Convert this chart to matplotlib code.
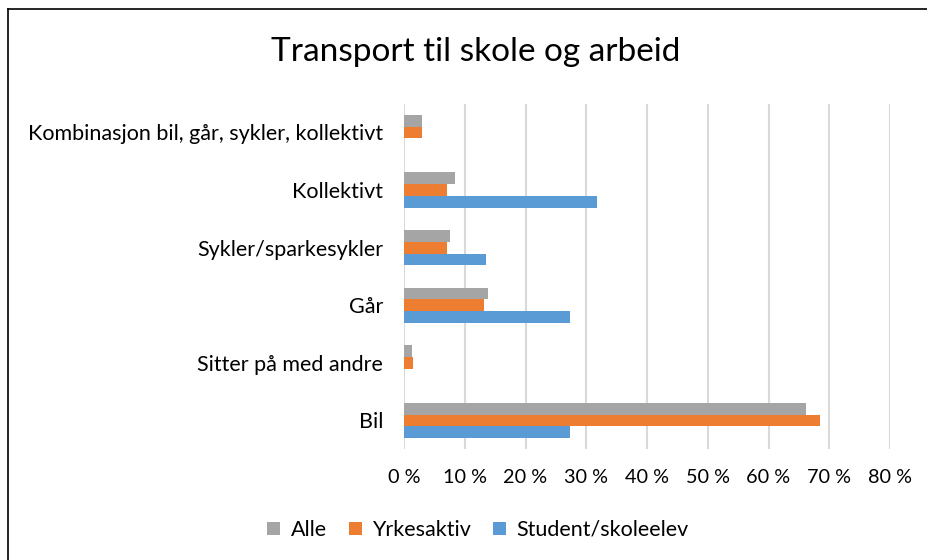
import numpy as np
import matplotlib.pyplot as plt
from matplotlib.lines import Line2D
from matplotlib.patches import Patch

plt.rcParams['font.family'] = ['Lato', 'DejaVu Sans']

# categories from bottom to top
categories = ["Bil", "Sitter på med andre", "Går", "Sykler/sparkesykler",
              "Kollektivt", "Kombinasjon bil, går, sykler, kollektivt"]
alle = [66.1, 1.3, 13.8, 7.5, 8.4, 3.0]
yrkesaktiv = [68.4, 1.4, 13.2, 7.1, 7.1, 3.0]
student = [27.3, 0.0, 27.3, 13.5, 31.8, 0.0]
series_names = ["Alle", "Yrkesaktiv", "Student/skoleelev"]
colors = ["#A5A5A5", "#ED7D31", "#5B9BD5"]
xticks = [0, 10, 20, 30, 40, 50, 60, 70, 80]

W, H = 927, 560
fig = plt.figure(figsize=(W / 100, H / 100), dpi=100)
ax = fig.add_axes([404 / W, 1 - 449.3 / H, (890 - 404) / W, (449.3 - 103.7) / H])

y = np.arange(len(categories))
bh = 0.206
for vals, off, c in zip([alle, yrkesaktiv, student], [bh, 0, -bh], colors):
    ax.barh(y + off, vals, height=bh, color=c, zorder=3)

ax.set_xlim(0, 80)
ax.set_ylim(-0.5, len(categories) - 0.5)
ax.set_xticks(xticks)
ax.set_xticklabels(["%d %%" % t for t in xticks])
ax.set_yticks(y)
ax.set_yticklabels(categories)
ax.tick_params(axis='both', length=0, colors='black')
ax.tick_params(axis='y', pad=15, labelsize=15.5)
ax.tick_params(axis='x', pad=14, labelsize=14.3)
ax.grid(axis='x', color='#D9D9D9', linewidth=1.5, zorder=0)
for s in ax.spines.values():
    s.set_visible(False)

fig.text(476 / W, 1 - 52 / H, "Transport til skole og arbeid", fontsize=24,
         ha='center', va='center')

handles = [Patch(facecolor=c) for c in colors]
fig.legend(handles, series_names, loc='center', bbox_to_anchor=(478 / W, 1 - 530 / H),
           ncol=3, frameon=False, fontsize=15.5, handlelength=0.6, handleheight=0.6,
           handletextpad=0.5, columnspacing=1.0)

# chart frame (cropped)
fig.add_artist(Line2D([8 / W, 8 / W], [0, 1 - 9 / H], color='black', lw=1.2))
fig.add_artist(Line2D([8 / W, 1], [1 - 9 / H, 1 - 9 / H], color='black', lw=1.2))

fig.savefig("out.png", dpi=100)
